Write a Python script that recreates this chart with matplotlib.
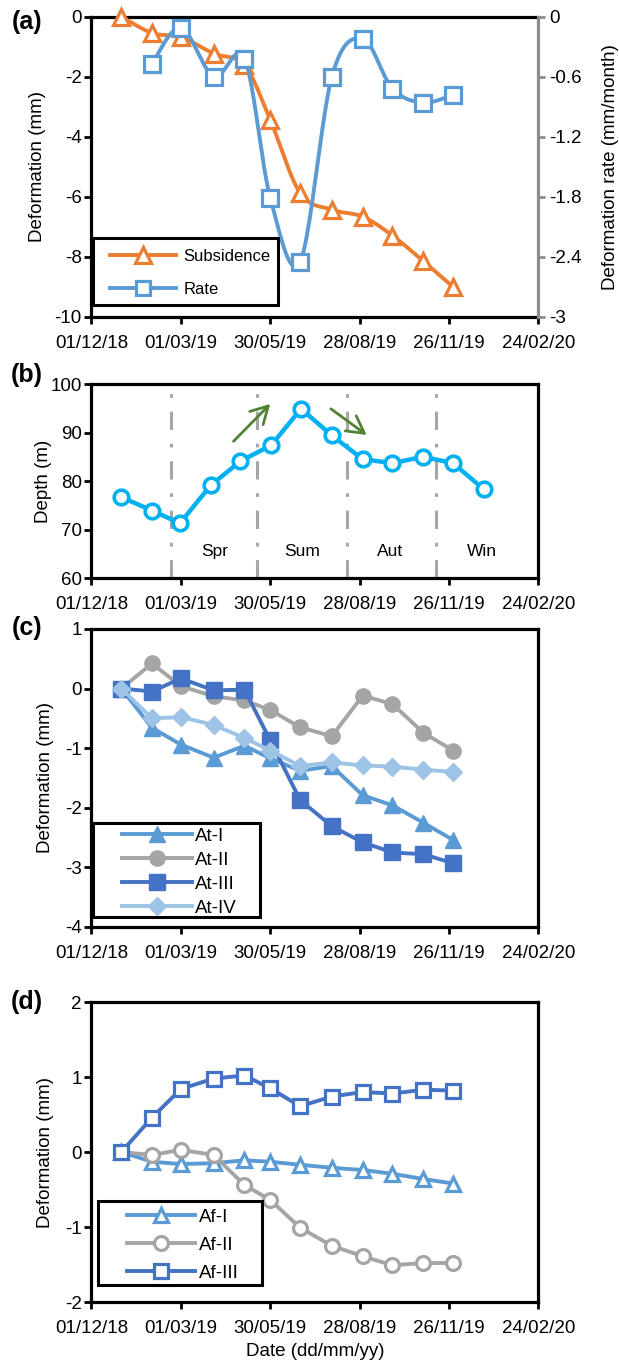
import numpy as np
import matplotlib
matplotlib.use("Agg")
import matplotlib.pyplot as plt
import matplotlib.dates as mdates
from matplotlib.patches import Rectangle

plt.rcParams['font.family'] = ['Liberation Sans', 'DejaVu Sans']
plt.rcParams['axes.unicode_minus'] = False
plt.rcParams['font.size'] = 13.5

# ---- data ----
dates_m = ['2018-12-31', '2019-01-31', '2019-03-01', '2019-04-03', '2019-05-04', '2019-05-30',
           '2019-06-29', '2019-07-31', '2019-08-31', '2019-09-30', '2019-10-31', '2019-11-30']

subsidence = [0.0, -0.55, -0.68, -1.23, -1.62, -3.44, -5.87, -6.43, -6.66, -7.29, -8.14, -9.0]
rate = [-0.47, -0.11, -0.60, -0.42, -1.81, -2.45, -0.60, -0.22, -0.72, -0.86, -0.78]

dates_b = ['2018-12-31', '2019-01-31', '2019-02-28', '2019-03-31', '2019-04-30', '2019-05-31',
           '2019-06-30', '2019-07-31', '2019-08-31', '2019-09-30', '2019-10-31', '2019-11-30',
           '2019-12-31']
depth = [76.7, 73.9, 71.3, 79.1, 84.1, 87.4, 94.9, 89.4, 84.5, 83.7, 85.0, 83.7, 78.3]
season_bounds = ['2019-02-19', '2019-05-17', '2019-08-15', '2019-11-13']
season_names = ['Spr', 'Sum', 'Aut', 'Win']
season_label_dates = ['2019-04-04', '2019-07-01', '2019-09-28', '2019-12-29']

at_names = ['At-I', 'At-II', 'At-III', 'At-IV']
at_i = [0.0, -0.66, -0.94, -1.16, -0.96, -1.17, -1.38, -1.30, -1.79, -1.96, -2.25, -2.54]
at_ii = [0.0, 0.42, 0.04, -0.13, -0.20, -0.36, -0.65, -0.80, -0.12, -0.26, -0.74, -1.04]
at_iii = [0.0, -0.05, 0.17, -0.03, -0.02, -0.87, -1.87, -2.31, -2.58, -2.75, -2.78, -2.93]
at_iv = [0.0, -0.50, -0.48, -0.61, -0.83, -1.04, -1.30, -1.24, -1.29, -1.31, -1.36, -1.40]

af_names = ['Af-I', 'Af-II', 'Af-III']
af_i = [0.0, -0.13, -0.16, -0.15, -0.11, -0.13, -0.17, -0.21, -0.24, -0.29, -0.36, -0.42]
af_ii = [0.0, -0.04, 0.03, -0.04, -0.44, -0.64, -1.01, -1.25, -1.39, -1.51, -1.48, -1.48]
af_iii = [0.0, 0.46, 0.84, 0.98, 1.02, 0.85, 0.61, 0.74, 0.80, 0.78, 0.83, 0.82]

x_start, x_end = '2018-12-01', '2020-02-24'

ORANGE = '#ED7D31'
BLUE = '#5B9BD5'
CYAN = '#00B0F0'
GRAY = '#A5A5A5'
DBLUE = '#4472C4'
LBLUE = '#9DC3E6'
GREEN = '#548235'


def to_num(ds):
    return mdates.date2num(np.array(ds, dtype='datetime64[D]'))


def smooth(x, y, n=24):
    # Catmull-Rom style smoothing like Excel's "smoothed line"
    x = np.asarray(x, float)
    y = np.asarray(y, float)
    xs, ys = [x[0]], [y[0]]
    t = np.linspace(0, 1, n)[1:]
    for i in range(len(x) - 1):
        i0 = max(i - 1, 0)
        i3 = min(i + 2, len(x) - 1)
        c1x = x[i] + (x[i + 1] - x[i0]) / 6
        c1y = y[i] + (y[i + 1] - y[i0]) / 6
        c2x = x[i + 1] - (x[i3] - x[i]) / 6
        c2y = y[i + 1] - (y[i3] - y[i]) / 6
        bx = (1 - t) ** 3 * x[i] + 3 * (1 - t) ** 2 * t * c1x + 3 * (1 - t) * t ** 2 * c2x + t ** 3 * x[i + 1]
        by = (1 - t) ** 3 * y[i] + 3 * (1 - t) ** 2 * t * c1y + 3 * (1 - t) * t ** 2 * c2y + t ** 3 * y[i + 1]
        xs.extend(bx)
        ys.extend(by)
    return np.array(xs), np.array(ys)


def style_axes(ax, ylim, yticks):
    ax.set_xlim(to_num([x_start])[0], to_num([x_end])[0])
    ax.set_xticks(np.arange(to_num([x_start])[0], to_num([x_end])[0] + 1, 90))
    ax.xaxis.set_major_formatter(mdates.DateFormatter('%d/%m/%y'))
    ax.set_ylim(*ylim)
    ax.set_yticks(yticks)
    for s in ax.spines.values():
        s.set_linewidth(2.3)
        s.set_color('black')
    ax.tick_params(direction='out', length=5, width=2.0, labelsize=13.5)
    ax.tick_params(axis='x', pad=8)
    ax.tick_params(axis='y', pad=2)


def framed_legend(ax, handles, labels, anchor, box, hl, htp, ls, fs=13.5):
    # legend contents without frame, plus a plain black box like Excel's
    leg = ax.legend(handles, labels, loc='upper left', bbox_to_anchor=anchor, borderaxespad=0,
                    borderpad=0, frameon=False, handlelength=hl, handletextpad=htp,
                    labelspacing=ls, fontsize=fs)
    leg.set_zorder(6)
    ax.add_patch(Rectangle(box[:2], box[2], box[3], transform=ax.transAxes, facecolor='white',
                           edgecolor='black', lw=2.2, zorder=5.5, clip_on=False))
    return leg


fig = plt.figure(figsize=(6.19, 13.61), dpi=100)
L, W = 0.1478, 0.7221
ax_a = fig.add_axes([L, 0.7671, W, 0.2207])
ax_b = fig.add_axes([L, 0.5753, W, 0.1425])
ax_c = fig.add_axes([L, 0.3189, W, 0.2190])
ax_d = fig.add_axes([L, 0.04335, W, 0.2204])

xm = to_num(dates_m)

# ---- (a) ----
style_axes(ax_a, (-10, 0), np.arange(-10, 1, 2))
ax_a.spines['right'].set_visible(False)
ax_r = ax_a.twinx()
ax_r.set_ylim(-3, 0)
ax_r.set_yticks([0, -0.6, -1.2, -1.8, -2.4, -3])
ax_r.set_yticklabels(['0', '-0.6', '-1.2', '-1.8', '-2.4', '-3'])
for k in ['left', 'top', 'bottom']:
    ax_r.spines[k].set_visible(False)
ax_r.spines['right'].set_color('#8C8C8C')
ax_r.spines['right'].set_linewidth(2.3)
ax_r.tick_params(axis='y', direction='out', length=5, width=2.0, color='#8C8C8C',
                 labelsize=13.5, pad=3)

sx, sy = smooth(xm, subsidence)
ax_a.plot(sx, sy, color=ORANGE, lw=2.8, zorder=3, clip_on=False)
ax_a.plot(xm, subsidence, ls='none', marker='^', ms=12, mfc='white', mec=ORANGE, mew=2.3,
          zorder=4, clip_on=False)
rx, ry = smooth(xm[1:], rate)
ax_r.plot(rx, ry, color=BLUE, lw=2.8, zorder=3, clip_on=False)
ax_r.plot(xm[1:], rate, ls='none', marker='s', ms=11, mfc='white', mec=BLUE, mew=2.3,
          zorder=4, clip_on=False)
ax_a.set_ylabel('Deformation (mm)', fontsize=13.5, labelpad=6)
ax_r.set_ylabel('Deformation rate (mm/month)', fontsize=13.5, labelpad=14)
h1, = ax_a.plot([], [], color=ORANGE, lw=2.8, marker='^', ms=11, mfc='white', mec=ORANGE, mew=2.3)
h2, = ax_a.plot([], [], color=BLUE, lw=2.8, marker='s', ms=10, mfc='white', mec=BLUE, mew=2.3)
framed_legend(ax_r, [h1, h2], ['Subsidence', 'Rate'], (0.0414, 0.2264),
              (0.0045, 0.04, 0.4128, 0.223), 3.96, 0.46, 1.09, fs=12)

# ---- (b) ----
style_axes(ax_b, (60, 100), np.arange(60, 101, 10))
for d in to_num(season_bounds):
    ax_b.axvline(d, color='#A6A6A6', lw=2.2, ls=(0, (6, 4.5, 1.2, 4.5)), zorder=1)
for name, d in zip(season_names, to_num(season_label_dates)):
    ax_b.text(d, 65.5, name, ha='center', va='center', fontsize=12.5)
ax_b.plot(to_num(dates_b), depth, color=CYAN, lw=3.2, marker='o', ms=10.5, mfc='white', mec=CYAN,
          mew=2.6, zorder=3)
arrow_kw = dict(arrowstyle='->,head_length=0.9,head_width=0.5', color=GREEN, lw=2.0,
                shrinkA=0, shrinkB=0)
ax_b.annotate('', xy=(to_num(['2019-05-30'])[0], 95.9), xytext=(to_num(['2019-04-23'])[0], 88.2),
              arrowprops=arrow_kw)
ax_b.annotate('', xy=(to_num(['2019-09-04'])[0], 89.5), xytext=(to_num(['2019-07-30'])[0], 94.9),
              arrowprops=arrow_kw)
ax_b.set_ylabel('Depth (m)', fontsize=13.5, labelpad=-1)

# ---- (c) ----
style_axes(ax_c, (-4, 1), np.arange(-4, 2, 1))
at_styles = [(BLUE, '^', 11), (GRAY, 'o', 11), (DBLUE, 's', 11), (LBLUE, 'D', 9)]
at_handles = []
for vals, name, (c, m, ms) in zip([at_i, at_ii, at_iii, at_iv], at_names, at_styles):
    h, = ax_c.plot(xm, vals, color=c, lw=2.8, marker=m, ms=ms, mfc=c, mec=c, clip_on=False)
    at_handles.append(h)
ax_c.set_ylabel('Deformation (mm)', fontsize=13.5, labelpad=8)
framed_legend(ax_c, at_handles, at_names, (0.068, 0.3326), (0.004, 0.034, 0.373, 0.315),
              3.73, 0.15, 0.36)

# ---- (d) ----
style_axes(ax_d, (-2, 2), np.arange(-2, 3, 1))
af_styles = [(BLUE, '^', 10), (GRAY, 'o', 10), (DBLUE, 's', 10)]
af_handles = []
for vals, name, (c, m, ms) in zip([af_i, af_ii, af_iii], af_names, af_styles):
    h, = ax_d.plot(xm, vals, color=c, lw=2.8, marker=m, ms=ms, mfc='white', mec=c, mew=2.3,
                   clip_on=False)
    af_handles.append(h)
ax_d.set_ylabel('Deformation (mm)', fontsize=13.5, labelpad=8)
ax_d.set_xlabel('Date (dd/mm/yy)', fontsize=13.5, labelpad=4)
framed_legend(ax_d, af_handles, af_names, (0.079, 0.3117), (0.0145, 0.057, 0.367, 0.28),
              3.63, 0.2, 0.59)

# panel letters
for txt, y in [('(a)', 22), ('(b)', 375), ('(c)', 628), ('(d)', 1002)]:
    fig.text(27 / 619, 1 - y / 1361, txt, ha='center', va='center', fontsize=18,
             fontweight='bold')

fig.savefig('out.png', dpi=100)
